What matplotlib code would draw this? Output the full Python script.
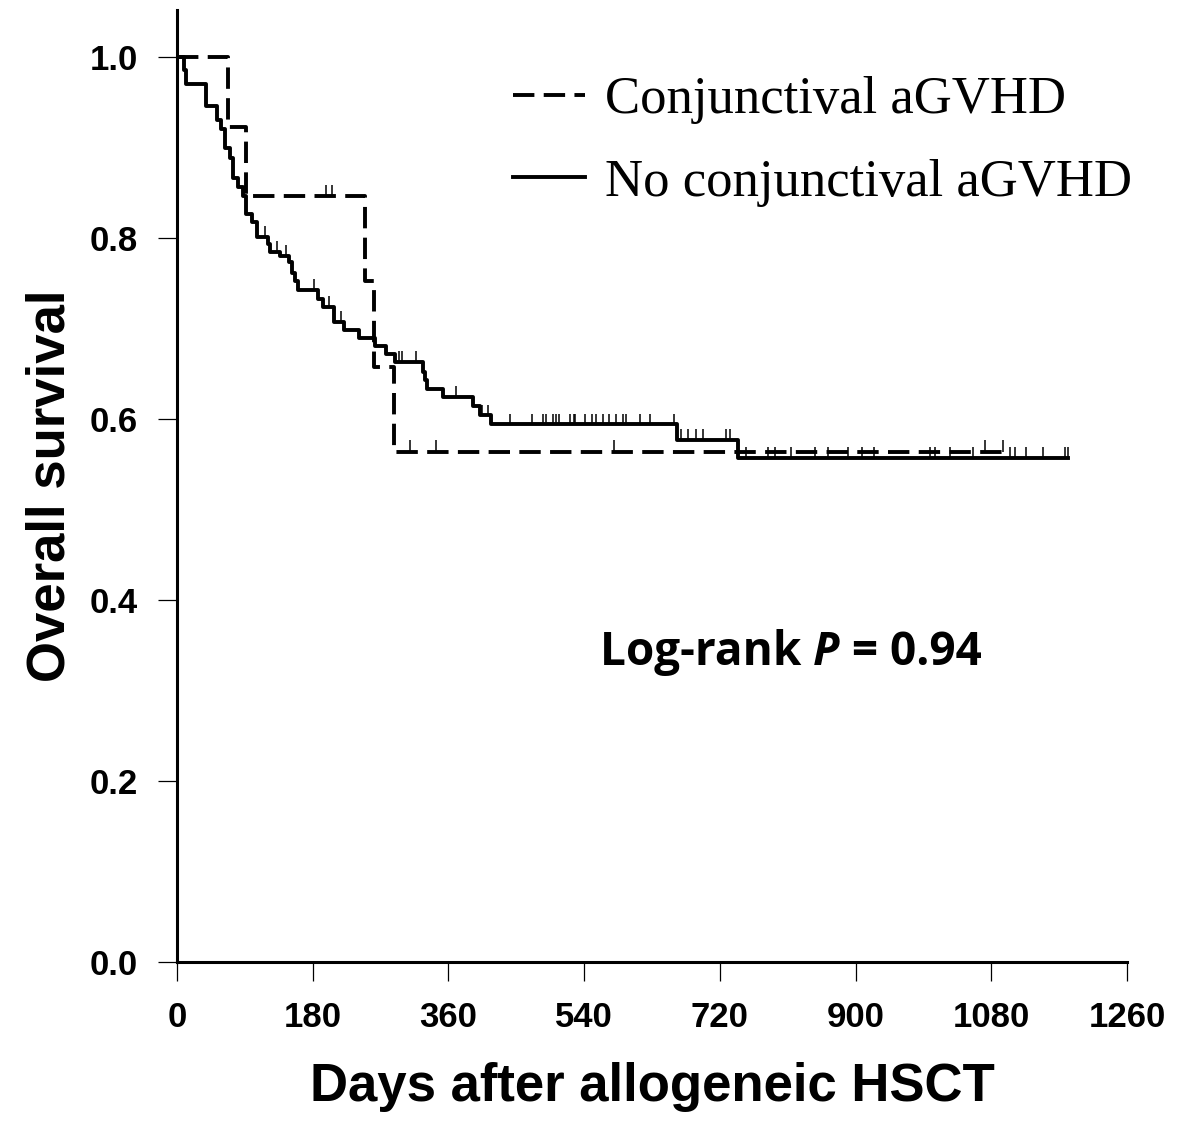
import numpy as np
import matplotlib.pyplot as plt

# Kaplan-Meier curves (days, survival)
conj_t = [0, 67, 91, 249, 261, 288]
conj_s = [1.0, 0.923, 0.846, 0.752, 0.658, 0.564]
conj_end = 1096
conj_cens = [198, 206, 309, 344, 579, 1072, 1096]

noconj_t = [0, 9, 12, 38, 53, 58, 64, 70, 74, 81, 87, 91, 99, 106, 121, 124,
            137, 148, 152, 156, 161, 187, 193, 208, 222, 242, 262, 277, 289,
            326, 329, 332, 353, 393, 402, 416, 663, 744]
noconj_s = [1.0, 0.986, 0.970, 0.946, 0.930, 0.920, 0.899, 0.888, 0.866, 0.856,
            0.846, 0.827, 0.818, 0.801, 0.793, 0.785, 0.780, 0.774, 0.761, 0.753,
            0.743, 0.733, 0.724, 0.707, 0.698, 0.689, 0.681, 0.672, 0.663, 0.652,
            0.643, 0.633, 0.624, 0.614, 0.604, 0.594, 0.577, 0.557]
noconj_end = 1182
noconj_cens = [117, 133, 145, 182, 201, 217, 295, 299, 317, 370, 405, 412,
               442, 471, 485, 489, 499, 503, 506, 521, 526, 528, 541, 550, 556,
               565, 573, 582, 591, 595, 614, 628, 659, 669, 678, 688, 698, 728,
               733, 755, 784, 793, 815, 846, 864, 890, 908, 924, 999, 1005,
               1025, 1056, 1105, 1111, 1126, 1149, 1178, 1182]

xticks = [0, 180, 360, 540, 720, 900, 1080, 1260]
yticks = [0.0, 0.2, 0.4, 0.6, 0.8, 1.0]
legend_labels = ['Conjunctival aGVHD', 'No conjunctival aGVHD']

sans = 'Liberation Sans'
serif = 'Liberation Serif'


def surv_at(t, times, surv):
    idx = np.searchsorted(times, t, side='right') - 1
    return np.array(surv)[idx]


fig = plt.figure(figsize=(11.86, 11.22), dpi=100)
ax = fig.add_axes([177/1186, 1 - 962/1122, 950/1186, 952/1122])

lw = 2.8
l1, = ax.step(conj_t + [conj_end], conj_s + [conj_s[-1]], where='post',
              color='black', lw=lw, linestyle=(0, (5.5, 2.4)))
l2, = ax.step(noconj_t + [noconj_end], noconj_s + [noconj_s[-1]], where='post',
              color='black', lw=lw)

#censor marks
cy = surv_at(conj_cens, conj_t, conj_s)
ax.vlines(conj_cens, cy, cy + 0.013, color='black', lw=1.1)
ny = surv_at(noconj_cens, noconj_t, noconj_s)
ax.vlines(noconj_cens, ny, ny + 0.012, color='black', lw=1.1)

ax.set_xlim(0, 1260)
ax.set_ylim(0, (962 - 10) / 905)
ax.set_xticks(xticks)
ax.set_xticklabels([str(v) for v in xticks], fontfamily=sans, fontweight='bold', fontsize=25)
ax.set_yticks(yticks)
ax.set_yticklabels(['%.1f' % v for v in yticks], fontfamily=sans, fontweight='bold', fontsize=25)
ax.tick_params(direction='out', length=14, width=0.9, pad=14)

for s in ['top', 'right']:
    ax.spines[s].set_visible(False)
for s in ['left', 'bottom']:
    ax.spines[s].set_linewidth(2.2)

ax.set_ylabel('Overall survival', fontfamily=sans, fontweight='bold', fontsize=38, labelpad=10)
ax.set_xlabel('Days after allogeneic HSCT', fontfamily=sans, fontweight='bold', fontsize=38, labelpad=20)

ax.legend([l1, l2], legend_labels, loc='upper left',
          bbox_to_anchor=((513 - 177) / 950, (962 - 76) / 952),
          frameon=False, prop={'family': serif, 'size': 38},
          handlelength=1.36, handletextpad=0.38, labelspacing=0.66, borderpad=0,
          borderaxespad=0)

#log-rank text, pieced together so P can be italic
t1 = ax.text((600 - 177) / 0.754, (962 - 665) / 905, 'Log-rank ',
             fontfamily='Open Sans', fontweight='bold', fontsize=33, va='baseline')
t2 = ax.annotate('P', xy=(1, 0), xycoords=t1, va='bottom', ha='left',
                 fontfamily='Open Sans', fontweight='bold', fontstyle='italic', fontsize=33)
t3 = ax.annotate(' = 0.94', xy=(1, 0), xycoords=t2, va='bottom', ha='left',
                 fontfamily='Open Sans', fontweight='bold', fontsize=33)

fig.savefig('out.png', dpi=100)
